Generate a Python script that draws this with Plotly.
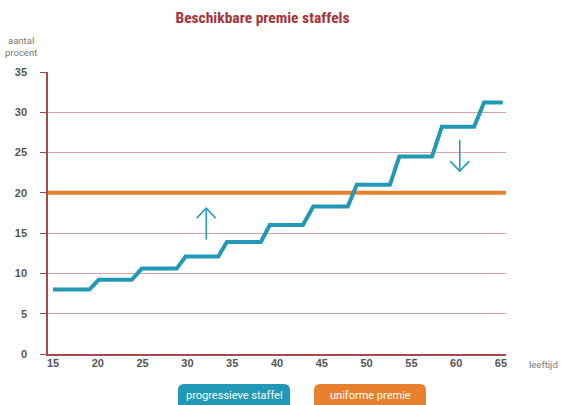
import plotly.graph_objects as go

# ---- data ----
ages = [15, 19.05, 20.1, 23.8, 24.9, 28.8, 29.8, 33.45, 34.4, 38.2, 39.2, 42.9,
        44.05, 47.9, 48.9, 52.6, 53.65, 57.3, 58.4, 62.0, 63.1, 65.2]
progressive = [8.0, 8.0, 9.2, 9.2, 10.6, 10.6, 12.1, 12.1, 13.9, 13.9, 16.0, 16.0,
               18.3, 18.3, 21.0, 21.0, 24.5, 24.5, 28.2, 28.2, 31.2, 31.2]
uniform_age = [14.44, 65.56]
uniform = [20, 20]
x_ticks = [15, 20, 25, 30, 35, 40, 45, 50, 55, 60, 65]
y_ticks = [0, 5, 10, 15, 20, 25, 30, 35]
# arrows: (x, y_tail, y_head)
arrows = [(32.1, 14.2, 18.1), (60.4, 26.6, 22.7)]
legend_names = ["progressieve staffel", "uniforme premie"]

BLUE = "#2098b6"
ORANGE = "#e8812f"
AXIS = "#a8474c"
GRID = "#d9a3a5"
TXT = "#555555"
LIGHT = "Liberation Sans Narrow, Arial Narrow, Roboto"

fig = go.Figure()
fig.add_trace(go.Scatter(x=uniform_age, y=uniform, mode="lines",
                         line=dict(color=ORANGE, width=4), hoverinfo="skip"))
fig.add_trace(go.Scatter(x=ages, y=progressive, mode="lines",
                         line=dict(color=BLUE, width=4), hoverinfo="skip"))

# arrows as thin lines with open chevron heads
hw, hd = 1.06, 1.24
for ax_, yt, yh in arrows:
    sgn = 1 if yh > yt else -1
    xs = [ax_, ax_, None, ax_ - hw, ax_, ax_ + hw]
    ys = [yt, yh, None, yh - sgn * hd, yh, yh - sgn * hd]
    fig.add_trace(go.Scatter(x=xs, y=ys, mode="lines",
                             line=dict(color=BLUE, width=1.5), hoverinfo="skip"))

shapes = []
annotations = []

W, H = 561, 405
ml, mr, mt, mb = 48, 55, 72, 51
pw, ph = W - ml - mr, H - mt - mb


def px2paper(x, y):
    return (x - ml) / pw, (H - mb - y) / ph


def P(x, y):
    a, b = px2paper(x, y)
    return f"{a:.5f},{b:.5f}"


buttons = [(178, 290, BLUE), (314, 426, ORANGE)]
for (bx0, bx1, col), name in zip(buttons, legend_names):
    by0, by1 = 384, 412
    r = 6
    path = (f"M {P(bx0 + r, by0)} L {P(bx1 - r, by0)} Q {P(bx1, by0)} {P(bx1, by0 + r)} "
            f"L {P(bx1, by1 - r)} Q {P(bx1, by1)} {P(bx1 - r, by1)} L {P(bx0 + r, by1)} "
            f"Q {P(bx0, by1)} {P(bx0, by1 - r)} L {P(bx0, by0 + r)} Q {P(bx0, by0)} {P(bx0 + r, by0)} Z")
    shapes.append(dict(type="path", xref="paper", yref="paper", path=path,
                       fillcolor=col, line=dict(width=0), layer="above"))
    cx, cy = px2paper((bx0 + bx1) / 2, 395)
    annotations.append(dict(x=cx, y=cy, xref="paper", yref="paper", text=name,
                            showarrow=False, xanchor="center", yanchor="middle",
                            font=dict(family=LIGHT, size=11, color="white")))

annotations.append(dict(x=px2paper(21, 0)[0], y=px2paper(0, 47)[1], xref="paper", yref="paper",
                        text="aantal<br>procent", showarrow=False, xanchor="center", yanchor="middle",
                        align="center",
                        font=dict(family=LIGHT, size=9.5, color="#777777")))
annotations.append(dict(x=px2paper(527, 0)[0], y=px2paper(0, 365)[1], xref="paper", yref="paper",
                        text="leeftijd", showarrow=False, xanchor="left", yanchor="middle",
                        font=dict(family=LIGHT, size=9.5, color="#777777")))

fig.update_layout(
    width=W, height=H,
    margin=dict(l=ml, r=mr, t=mt, b=mb, autoexpand=False),
    paper_bgcolor="white", plot_bgcolor="white",
    showlegend=False,
    title=dict(text="<b>Beschikbare premie staffels</b>", x=262.5 / W, xanchor="center",
               xref="container",
               y=1 - 18 / H, yanchor="middle",
               font=dict(family="Liberation Sans Narrow, Arial Narrow, Roboto Condensed, Roboto",
                         size=15.5, color="#a3343a")),
    shapes=shapes, annotations=annotations,
)
fig.update_xaxes(range=[14.44, 65.56], tickvals=x_ticks, showgrid=False,
                 showline=True, linecolor=AXIS, linewidth=1.5, ticks="",
                 zeroline=False, automargin=False, ticklabelstandoff=-2,
                 tickfont=dict(family="Liberation Sans, Arial", size=11, color=TXT, weight="bold"))
fig.update_yaxes(range=[0, 35], tickvals=y_ticks, showgrid=True, gridcolor=GRID, gridwidth=1,
                 showline=True, linecolor=AXIS, linewidth=1.5, ticks="outside",
                 ticklen=6, tickcolor=AXIS, zeroline=False, ticklabelstandoff=11,
                 automargin=False,
                 tickfont=dict(family="Liberation Sans, Arial", size=11, color=TXT, weight="bold"))

fig.write_html("out.html", config={"displayModeBar": False},
               post_script="document.body.style.margin='0';")
